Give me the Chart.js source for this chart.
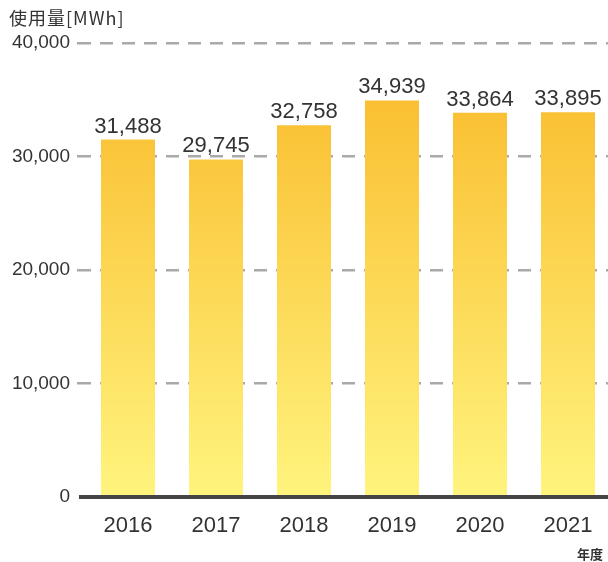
<!DOCTYPE html>
<html><head><meta charset="utf-8">
<script src="https://cdn.jsdelivr.net/npm/chart.js@4/dist/chart.umd.min.js"></script>
<style>html,body{margin:0;padding:0;background:#fff;overflow:hidden;width:608px;height:562px}#wrap{position:relative;width:612px;height:562px}</style>
</head><body><div id="wrap"><canvas id="c" width="612" height="562"></canvas></div>
<script>
const categories = ["2016","2017","2018","2019","2020","2021"];
const usage = [31488, 29745, 32758, 34939, 33864, 33895];
const yTicks = [0, 10000, 20000, 30000, 40000];
const unitLabel = "使用量[MWh]";
const xUnitLabel = "年度";

const NUM_FONT = "'Liberation Sans', Arial, Helvetica, sans-serif";
const JP_FONT = "'Noto Sans CJK JP', sans-serif";

const extras = {
  id: 'extras',
  afterDatasetsDraw(chart) {
    const ctx = chart.ctx;
    const meta = chart.getDatasetMeta(0);
    ctx.save();
    const y0 = chart.scales.y.getPixelForValue(0);
    ctx.fillStyle = '#444';
    ctx.fillRect(79, y0 - 2, 612 - 79, 4);
    ctx.fillStyle = '#333';
    ctx.font = '22px ' + NUM_FONT;
    ctx.textAlign = 'center';
    ctx.textBaseline = 'alphabetic';
    meta.data.forEach((bar, i) => {
      ctx.fillText(usage[i].toLocaleString('en-US'), bar.x, bar.y - 7);
    });
    ctx.textAlign = 'left';
    ctx.font = '18px ' + JP_FONT;
    if ('letterSpacing' in ctx) ctx.letterSpacing = '1px';
    ctx.fillText(unitLabel, 9, 25);
    if ('letterSpacing' in ctx) ctx.letterSpacing = '0px';
    ctx.font = 'bold 13px ' + JP_FONT;
    ctx.fillText(xUnitLabel, 577, 559);
    ctx.restore();
  }
};

new Chart(document.getElementById('c'), {
  type: 'bar',
  data: {
    labels: categories,
    datasets: [{
      data: usage,
      backgroundColor(ctx) {
        const ch = ctx.chart, a = ch.chartArea;
        if (!a) return '#FBC232';
        const g = ch.ctx.createLinearGradient(0, a.top, 0, a.bottom);
        g.addColorStop(0, '#F9B827');
        g.addColorStop(1, '#FFF47E');
        return g;
      },
      borderWidth: 0,
      categoryPercentage: 1,
      barPercentage: 0.614
    }]
  },
  options: {
    responsive: false,
    animation: false,
    devicePixelRatio: 1,
    layout: { padding: { top: 43, right: 0, bottom: 0, left: 0 } },
    plugins: { legend: { display: false }, tooltip: { enabled: false } },
    scales: {
      x: {
        grid: { display: false },
        border: { display: false },
        ticks: { color: '#333', font: { size: 22, family: NUM_FONT }, padding: 8 },
        afterFit(s) { s.height = 65; }
      },
      y: {
        min: 0, max: 40000,
        afterBuildTicks(s) { s.ticks = yTicks.map(v => ({ value: v })); },
        grid: {
          color: (c) => c.tick && c.tick.value === 0 ? 'rgba(0,0,0,0)' : '#a9a9a9',
          lineWidth: 2.5,
          tickLength: 7,
          tickColor: (c) => c.tick && c.tick.value === 0 ? 'rgba(0,0,0,0)' : '#a9a9a9',
          tickBorderDash: [13, 9],
          drawOnChartArea: true
        },
        border: { display: false, dash: [13, 9], dashOffset: 6 },
        ticks: {
          color: '#333',
          font: { size: 19, family: NUM_FONT },
          padding: 7,
          callback: (v) => v.toLocaleString('en-US')
        },
        afterFit(s) { s.width = 84; }
      }
    }
  },
  plugins: [extras]
});
</script></body></html>
